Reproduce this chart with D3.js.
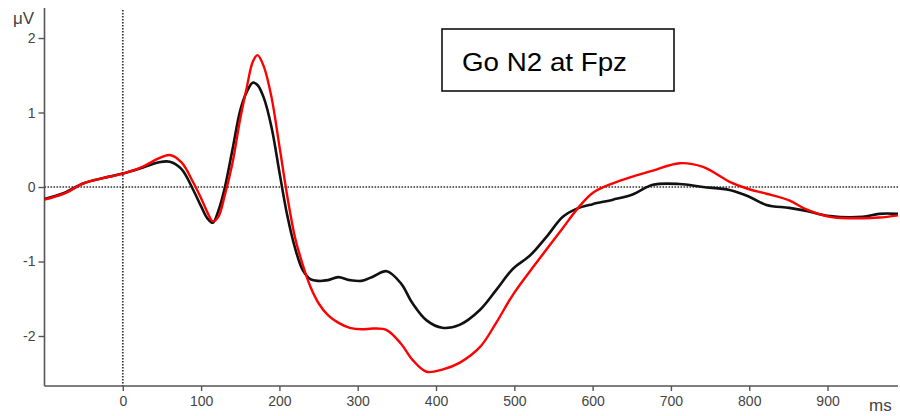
<!DOCTYPE html>
<html>
<head>
<meta charset="utf-8">
<script src="https://cdn.jsdelivr.net/npm/d3@7/dist/d3.min.js"></script>
<style>
  html, body { margin: 0; padding: 0; background: #fff; }
  svg { display: block; }
</style>
</head>
<body>
<svg id="chart" width="900" height="416"></svg>
<script>
// ---- data ----
const times = [-100,-75,-50,-25,0,25,45,60,75,90,100,108,115,122,130,140,150,158,166,172,180,190,200,210,220,230,240,250,262,275,290,305,320,337,355,370,388,408,430,456,477,498,520,541,562,580,600,626,651,677,711,741,775,800,822,851,873,903,945,966,990];
const blackSeries = [-0.16,-0.08,0.05,0.12,0.18,0.26,0.33,0.34,0.24,-0.04,-0.26,-0.42,-0.48,-0.32,-0.02,0.50,1.03,1.27,1.40,1.37,1.20,0.80,0.20,-0.38,-0.82,-1.12,-1.24,-1.26,-1.25,-1.21,-1.25,-1.26,-1.20,-1.13,-1.29,-1.56,-1.79,-1.89,-1.85,-1.65,-1.38,-1.10,-0.92,-0.67,-0.40,-0.29,-0.23,-0.17,-0.10,0.03,0.04,0.00,-0.04,-0.13,-0.24,-0.28,-0.32,-0.39,-0.40,-0.36,-0.36];
const redSeries   = [-0.17,-0.09,0.05,0.12,0.18,0.27,0.38,0.43,0.33,0.06,-0.15,-0.34,-0.46,-0.40,-0.12,0.32,0.92,1.32,1.68,1.77,1.62,1.20,0.55,-0.12,-0.68,-1.05,-1.35,-1.56,-1.72,-1.82,-1.89,-1.91,-1.90,-1.92,-2.10,-2.32,-2.48,-2.45,-2.36,-2.15,-1.82,-1.45,-1.13,-0.84,-0.55,-0.30,-0.08,0.05,0.14,0.22,0.32,0.27,0.07,-0.03,-0.09,-0.18,-0.30,-0.40,-0.42,-0.41,-0.38];
const xTicks = [0,100,200,300,400,500,600,700,800,900];
const yTicks = [-2,-1,0,1,2];
const xUnit = "ms";
const yUnit = "\u03bcV";
const titleText = "Go N2 at Fpz";

// ---- layout ----
const svg = d3.select("#chart");
const plotLeft = 44.5, plotRight = 898, plotTop = 8, plotBottom = 386;
const x = d3.scaleLinear().domain([-100, 990]).range([plotLeft, plotRight]);
const y = d3.scaleLinear().domain([-2.671, 2.403]).range([plotBottom, plotTop]);
const axisColor = "#555";
const labelFont = "Liberation Sans, Arial, sans-serif";

// dotted reference lines
svg.append("line")
  .attr("x1", x(0)).attr("x2", x(0)).attr("y1", plotTop + 2).attr("y2", plotBottom)
  .attr("stroke", "#333").attr("stroke-width", 1.7).attr("stroke-dasharray", "1.6,1.4");
svg.append("line")
  .attr("x1", plotLeft).attr("x2", plotRight).attr("y1", y(0)).attr("y2", y(0))
  .attr("stroke", "#333").attr("stroke-width", 1.7).attr("stroke-dasharray", "1.6,1.4");

// axes
const fmt = d => String(d);
const xAxis = d3.axisBottom(x).tickValues(xTicks).tickFormat(fmt).tickSize(5).tickSizeOuter(0).tickPadding(5);
const yAxis = d3.axisLeft(y).tickValues(yTicks).tickFormat(fmt).tickSize(6).tickSizeOuter(0).tickPadding(3);

const gx = svg.append("g").attr("transform", `translate(0,${plotBottom})`).call(xAxis);
const gy = svg.append("g").attr("transform", `translate(${plotLeft},0)`).call(yAxis);
[gx, gy].forEach(g => {
  g.select(".domain").attr("stroke", axisColor).attr("stroke-width", 1.6);
  g.selectAll(".tick line").attr("stroke", axisColor).attr("stroke-width", 1.4);
  g.selectAll(".tick text").attr("fill", "#444").attr("font-size", 14).attr("font-family", labelFont);
});
gx.select(".domain").attr("d", `M${plotLeft},0H${plotRight}`);
gy.select(".domain").attr("d", `M0,${plotTop}V${plotBottom}`);

svg.append("text").attr("x", 13).attr("y", 24).text(yUnit)
  .attr("fill", "#444").attr("font-size", 17).attr("font-family", labelFont);
svg.append("text").attr("x", 869).attr("y", 411).text(xUnit)
  .attr("fill", "#444").attr("font-size", 17).attr("font-family", labelFont);

// curves
const line = d3.line().x(d => x(d[0])).y(d => y(d[1])).curve(d3.curveCatmullRom.alpha(0.5));
const blackData = times.map((t, i) => [t, blackSeries[i]]);
const redData = times.map((t, i) => [t, redSeries[i]]);
svg.append("path").attr("d", line(blackData)).attr("fill", "none")
  .attr("stroke", "#111").attr("stroke-width", 2.6).attr("stroke-linejoin", "round");
svg.append("path").attr("d", line(redData)).attr("fill", "none")
  .attr("stroke", "#ff0000").attr("stroke-width", 2.4).attr("stroke-linejoin", "round");

// title box
svg.append("rect").attr("x", 442).attr("y", 29).attr("width", 232).attr("height", 62)
  .attr("fill", "#fff").attr("stroke", "#000").attr("stroke-width", 1.5);
svg.append("text").attr("x", 462).attr("y", 71).text(titleText)
  .attr("fill", "#000").attr("font-size", 25).attr("font-family", "Liberation Sans, Arial, sans-serif")
  .attr("textLength", 165).attr("lengthAdjust", "spacingAndGlyphs");
</script>
</body>
</html>
